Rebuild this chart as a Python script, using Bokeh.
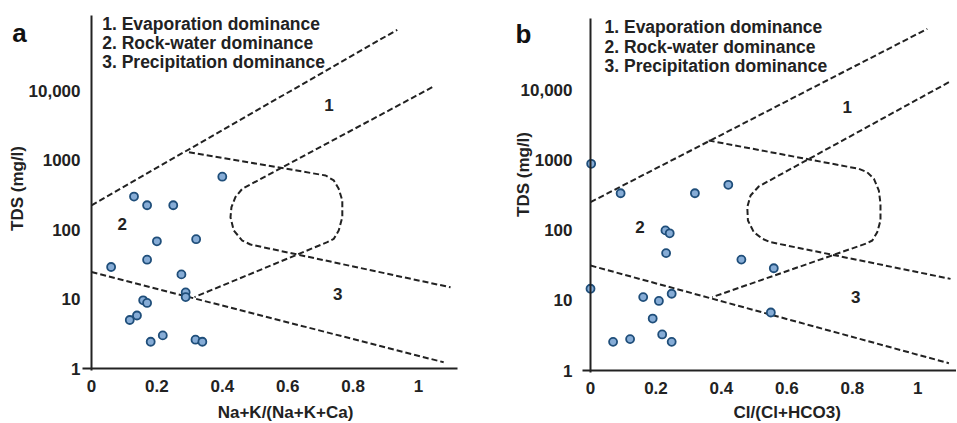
import math
from bokeh.plotting import figure
from bokeh.layouts import row
from bokeh.models import FixedTicker, Label
from bokeh.embed import file_html
from bokeh.resources import INLINE

# ---------------- data ----------------
# Panel a: Na+K/(Na+K+Ca) vs TDS
a_x = [0.40, 0.13, 0.17, 0.25, 0.20, 0.32, 0.17, 0.06, 0.275, 0.288, 0.288,
       0.158, 0.17, 0.139, 0.117, 0.218, 0.181, 0.318, 0.339]
a_tds = [580, 300, 225, 225, 68, 73, 37, 29, 22.7, 12.5, 10.7,
         9.6, 8.8, 5.8, 5.0, 3.0, 2.43, 2.6, 2.43]

# Panel b: Cl/(Cl+HCO3) vs TDS
b_x = [0.002, 0.092, 0.319, 0.421, 0.229, 0.242, 0.231, 0.461, 0.560, 0.0,
       0.161, 0.248, 0.209, 0.190, 0.551, 0.219, 0.121, 0.069, 0.248]
b_tds = [880, 335, 335, 442, 99, 90, 47, 38, 28.6, 14.6,
         11.1, 12.4, 9.8, 5.5, 6.7, 3.26, 2.8, 2.56, 2.56]

# Gibbs boundary lines
a_upper_x = [0.0, 0.935]
a_upper_y = [225, 76000]
a_lower_x = [0.0, 1.077]
a_lower_y = [24.5, 1.23]
a_c1_x = [1.042, 0.461, 0.440, 0.428, 0.425, 0.435, 0.461, 0.486, 1.098]
a_c1_y = [11300, 388, 294, 211, 151, 97.3, 69.8, 61.2, 14.8]
a_c2_x = [0.298, 0.716, 0.741, 0.756, 0.767, 0.767, 0.756, 0.741, 0.721, 0.315]
a_c2_y = [1309, 604, 512, 388, 264, 151, 97.3, 74.0, 66.1, 10.7]

b_upper_x = [0.0, 1.029]
b_upper_y = [250, 73600]
b_lower_x = [0.0, 1.095]
b_lower_y = [31.3, 1.27]
b_c1_x = [1.095, 0.514, 0.489, 0.479, 0.481, 0.499, 0.525, 0.550, 1.100]
b_c1_y = [12800, 418, 311, 212, 137, 93.3, 75.2, 67.3, 20.2]
b_c2_x = [0.361, 0.820, 0.845, 0.866, 0.881, 0.886, 0.886, 0.876, 0.861, 0.845, 0.372]
b_c2_y = [1888, 746, 668, 538, 366, 237, 137, 93.3, 71.1, 65.0, 11.1]

region_texts = ["1", "2", "3"]
a_region_x = [0.726, 0.094, 0.753]
a_region_y = [6170, 122, 11.9]
b_region_x = [0.784, 0.151, 0.81]
b_region_y = [5620, 110, 11.3]

legend_lines = ["1. Evaporation dominance", "2. Rock-water dominance",
                "3. Precipitation dominance"]
x_ticks = [0, 0.2, 0.4, 0.6, 0.8, 1]
x_tick_labels = ["0", "0.2", "0.4", "0.6", "0.8", "1"]
y_ticks = [1, 10, 100, 1000, 10000]
y_tick_labels = ["1", "10", "100", "1000", "10,000"]

FONT = "Liberation Sans"
DARK = "#222222"
H = 422


def make_panel(px, py, ux, uy, lx, ly, c1x, c1y, c2x, c2y, rx, ry,
               letter, xlabel, width, xr, yr, xb, yb, ystand,
               leg_x, leg_top, letter_pos, ylab_pos, xlab_pos):
    p = figure(width=width, height=H, x_range=xr, y_range=yr,
               y_axis_type="log", output_backend="svg",
               toolbar_location=None, min_border=0,
               min_border_left=0, min_border_right=0,
               min_border_top=0, min_border_bottom=0)
    p.outline_line_color = None
    p.grid.visible = False
    p.background_fill_color = "white"
    p.border_fill_color = "white"

    for ax in (p.xaxis[0], p.yaxis[0]):
        ax.axis_line_color = DARK
        ax.axis_line_width = 2
        ax.major_tick_line_color = None
        ax.minor_tick_line_color = None
        ax.major_tick_out = 0
        ax.major_tick_in = 0
        ax.major_label_text_font = FONT
        ax.major_label_text_font_style = "bold"
        ax.major_label_text_font_size = "17px"
        ax.major_label_text_color = DARK

    p.xaxis.fixed_location = 1
    p.xaxis.bounds = xb
    p.xaxis.ticker = FixedTicker(ticks=x_ticks)
    p.xaxis.major_label_overrides = {t: l for t, l in zip(x_ticks, x_tick_labels)}
    p.xaxis.major_label_standoff = 11
    p.yaxis.fixed_location = 0
    p.yaxis.bounds = yb
    p.yaxis.ticker = FixedTicker(ticks=y_ticks)
    p.yaxis.major_label_overrides = {t: l for t, l in zip(y_ticks, y_tick_labels)}
    p.yaxis.major_label_standoff = ystand

    dash = dict(line_color=DARK, line_width=2, line_dash="6 3")
    p.line(ux, uy, **dash)
    p.line(lx, ly, **dash)
    p.line(c1x, c1y, **dash)
    p.line(c2x, c2y, **dash)

    p.scatter(px, py, size=8, fill_color="#86acd6", line_color="#1f4e7a",
              line_width=1.8)

    p.text(rx, ry, text=region_texts, text_font_size="17px",
           text_font_style="bold", text_align="center",
           text_baseline="middle", text_color=DARK,
           text_font={"value": FONT})

    for i, t in enumerate(legend_lines):
        p.add_layout(Label(x=leg_x, y=H - leg_top[i], x_units="screen",
                           y_units="screen", text=t, text_font=FONT,
                           text_font_size="17.5px", text_font_style="bold",
                           text_baseline="middle", text_color=DARK))

    p.add_layout(Label(x=letter_pos[0], y=H - letter_pos[1], x_units="screen",
                       y_units="screen", text=letter, text_font=FONT,
                       text_font_size="26px", text_font_style="bold",
                       text_baseline="alphabetic", text_color="#111111"))
    p.add_layout(Label(x=ylab_pos[0], y=H - ylab_pos[1], x_units="screen",
                       y_units="screen", text="TDS (mg/l)", angle=math.pi / 2,
                       text_font=FONT, text_font_size="17px",
                       text_font_style="bold", text_align="center",
                       text_baseline="middle", text_color=DARK))
    p.add_layout(Label(x=xlab_pos[0], y=H - xlab_pos[1], x_units="screen",
                       y_units="screen", text=xlabel, text_font=FONT,
                       text_font_size="17px", text_font_style="bold",
                       text_align="center", text_baseline="middle",
                       text_color=DARK))
    return p


# panel a: x axis 0 at 91px, 327 px per unit; y=1 at 368px, 69.4 px per decade
pa = make_panel(a_x, a_tds, a_upper_x, a_upper_y, a_lower_x, a_lower_y,
                a_c1_x, a_c1_y, a_c2_x, a_c2_y, a_region_x, a_region_y,
                "a", "Na+K/(Na+K+Ca)", width=480,
                xr=(-91 / 327, (480 - 91) / 327),
                yr=(10 ** (-(H - 368) / 69.4), 10 ** (368 / 69.4)),
                xb=(-0.028, 1.119), yb=(10 ** -0.03, 10 ** 5.086), ystand=11,
                leg_x=101.7, leg_top=[23.3, 42.5, 61.7],
                letter_pos=(11.7, 32), ylab_pos=(16.7, 188),
                xlab_pos=(285, 412))

# panel b: x axis 0 at 110px, 327.3 px per unit; y=1 at 370px, 70.2 px per decade
pb = make_panel(b_x, b_tds, b_upper_x, b_upper_y, b_lower_x, b_lower_y,
                b_c1_x, b_c1_y, b_c2_x, b_c2_y, b_region_x, b_region_y,
                "b", "Cl/(Cl+HCO3)", width=476,
                xr=(-110 / 327.3, (476 - 110) / 327.3),
                yr=(10 ** (-(H - 370) / 70.2), 10 ** (370 / 70.2)),
                xb=(-0.025, 1.118), yb=(10 ** -0.03, 10 ** 5.01), ystand=18,
                leg_x=124, leg_top=[26.5, 46.5, 65],
                letter_pos=(35, 33.3), ylab_pos=(43.3, 174),
                xlab_pos=(306.7, 412))

layout = row(pa, pb)
open("out.html", "w").write(file_html(layout, INLINE))
